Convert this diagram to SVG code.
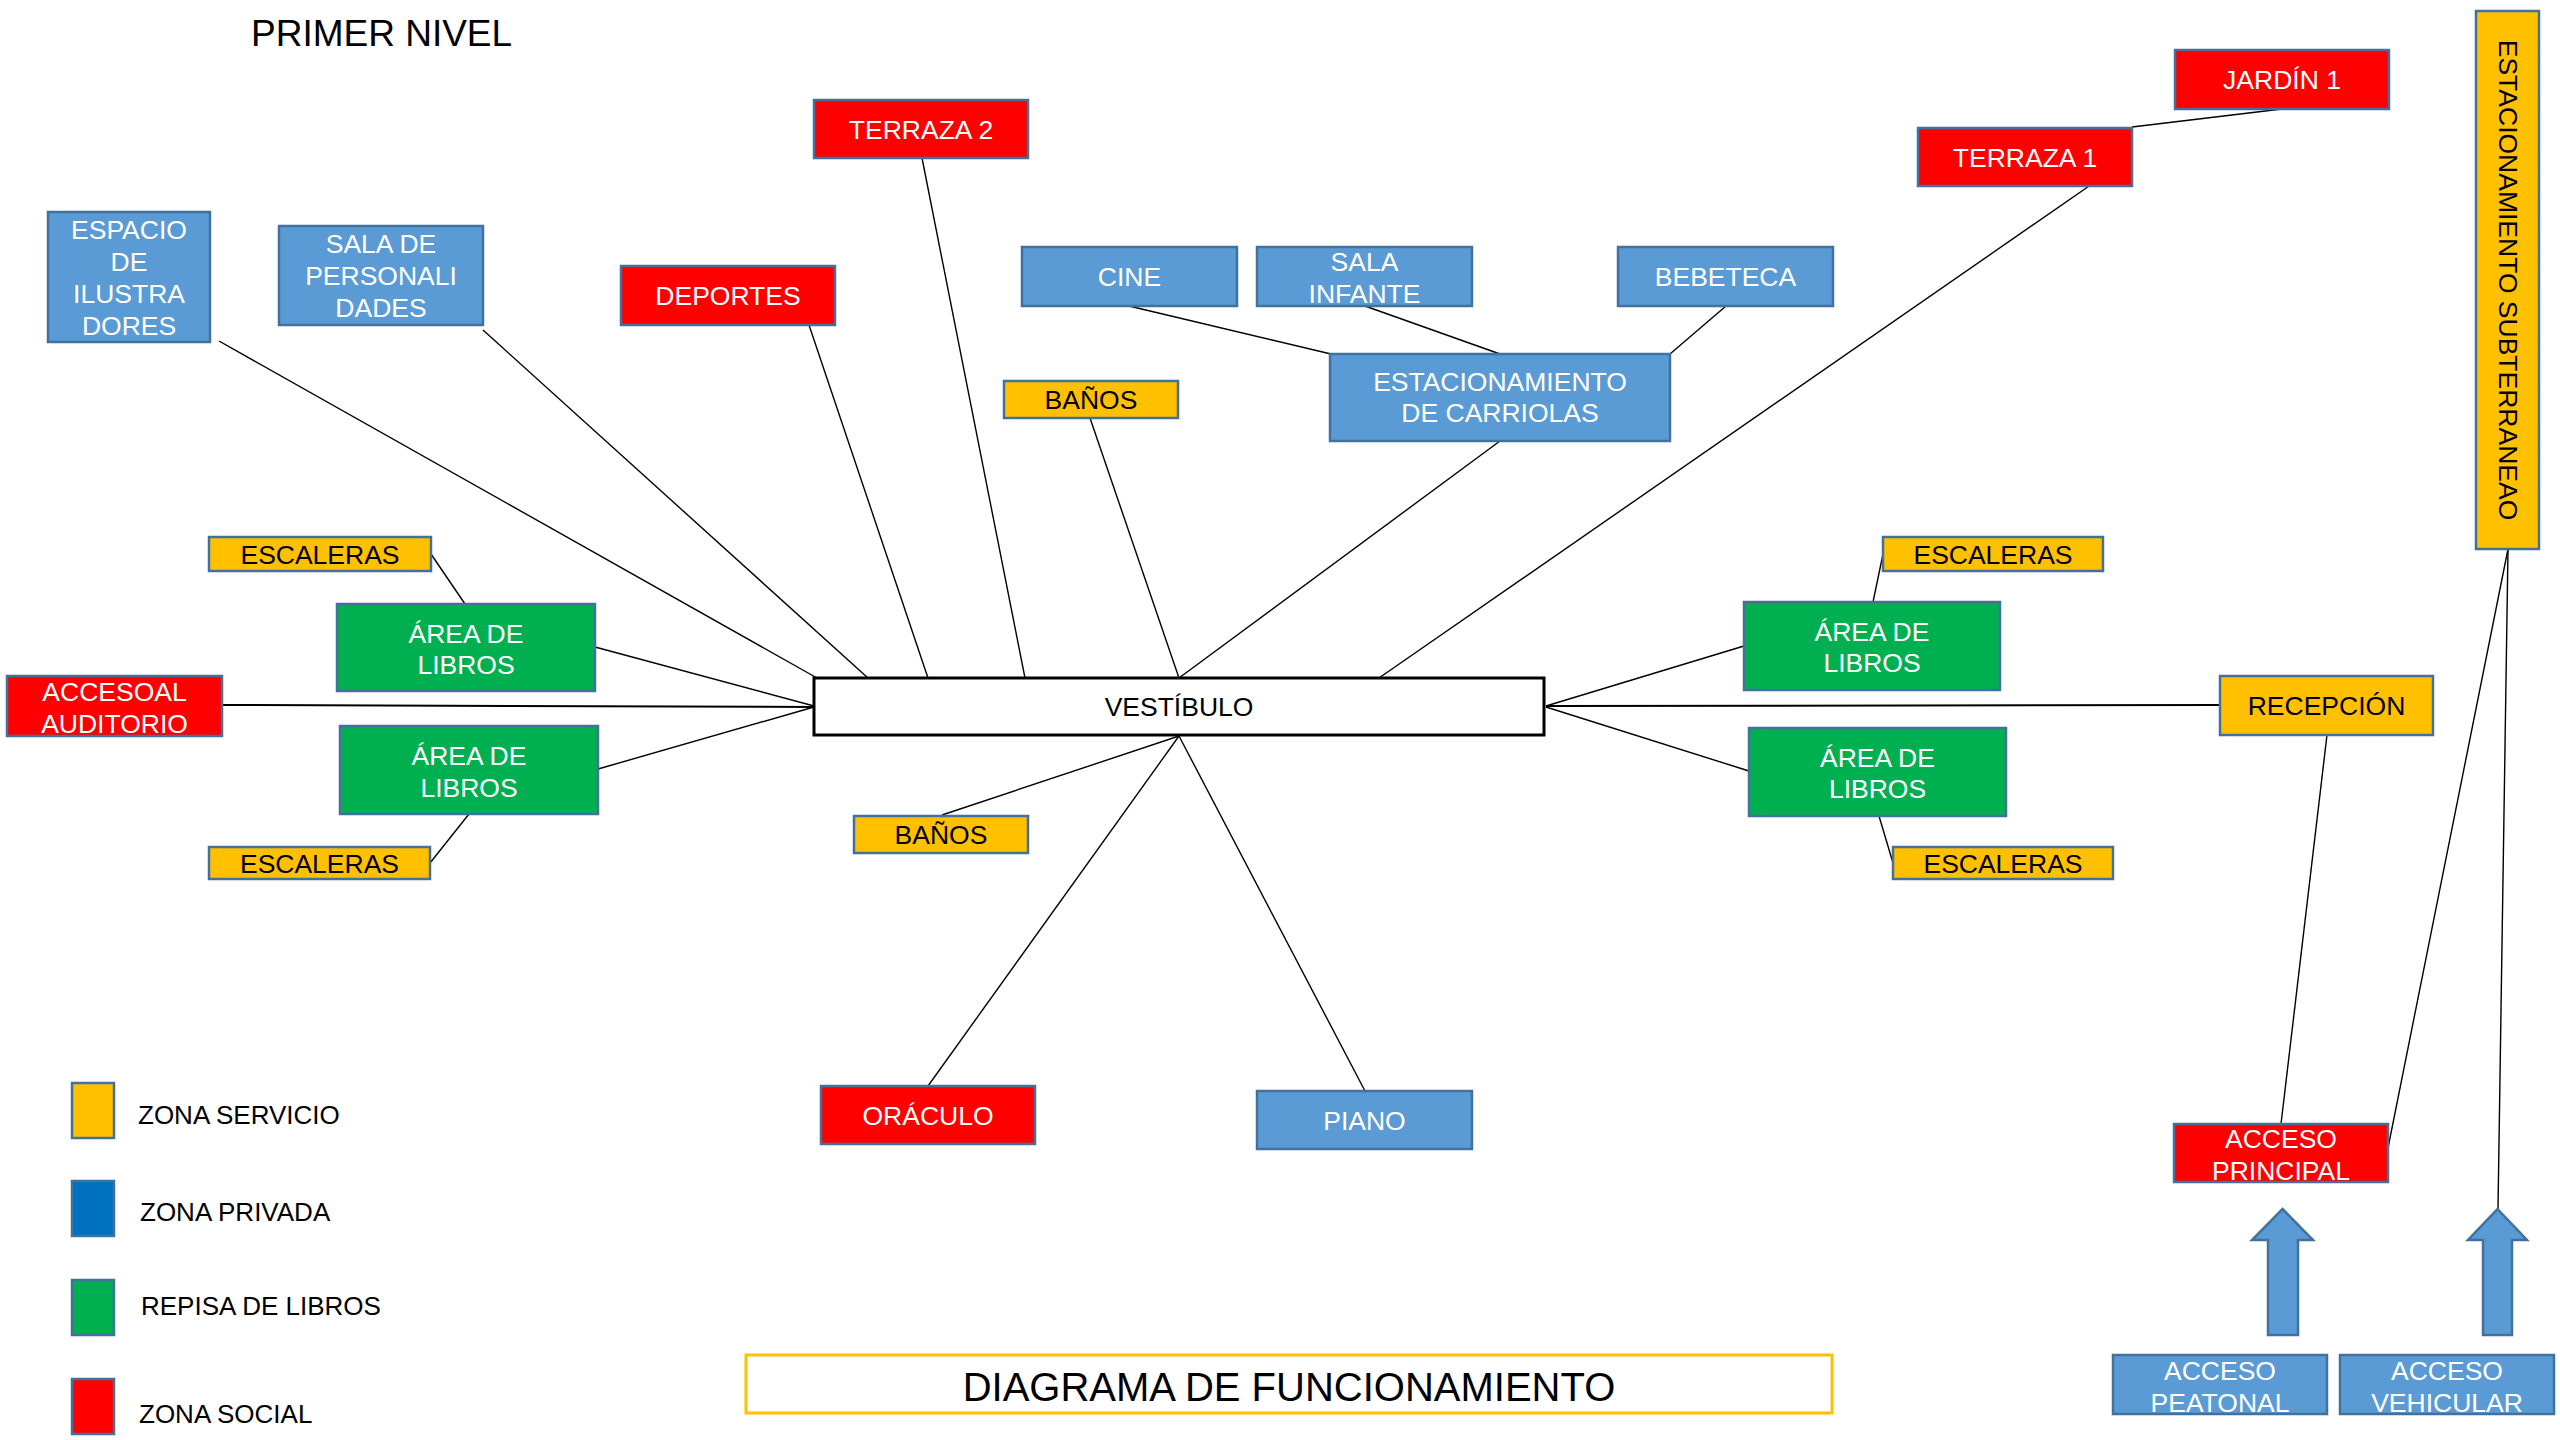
<svg xmlns="http://www.w3.org/2000/svg" width="2560" height="1440" viewBox="0 0 2560 1440">
<style>
.n{stroke:#41719C;stroke-width:2.5}
.r{fill:#FF0000}.b{fill:#5B9BD5}.g{fill:#00B050}.y{fill:#FFC000}
.t{font-family:"Liberation Sans",Arial,sans-serif;font-size:26.5px;text-anchor:middle}
.w{fill:#FFFFFF}.k{fill:#000000}
.lg{font-family:"Liberation Sans",Arial,sans-serif;font-size:26px;fill:#000}
#connectors line{stroke:#000;stroke-width:1.4}
</style>
<rect width="2560" height="1440" fill="#FFFFFF"/>
<text x="251" y="46" font-family="Liberation Sans, Arial, sans-serif" font-size="37" fill="#000">PRIMER NIVEL</text>
<g id="connectors">
<line x1="219" y1="341" x2="817" y2="678"/>
<line x1="483" y1="330" x2="868" y2="678"/>
<line x1="809" y1="325" x2="928" y2="678"/>
<line x1="922" y1="158" x2="1025" y2="678"/>
<line x1="431" y1="554" x2="465" y2="604"/>
<line x1="595" y1="647" x2="814" y2="706"/>
<line x1="222" y1="705" x2="814" y2="707" style="stroke-width:2"/>
<line x1="598" y1="769" x2="814" y2="707"/>
<line x1="430" y1="863" x2="469" y2="814"/>
<line x1="942" y1="815" x2="1179" y2="736"/>
<line x1="928" y1="1086" x2="1179" y2="736"/>
<line x1="1365" y1="1091" x2="1179" y2="736"/>
<line x1="1090" y1="418" x2="1179" y2="678"/>
<line x1="1500" y1="441" x2="1179" y2="678"/>
<line x1="2092" y1="184" x2="1379" y2="678"/>
<line x1="1129" y1="306" x2="1331" y2="354"/>
<line x1="1365" y1="306" x2="1500" y2="354"/>
<line x1="1726" y1="306" x2="1670" y2="354"/>
<line x1="2282" y1="109" x2="2132" y2="127"/>
<line x1="1883" y1="554" x2="1873" y2="602"/>
<line x1="1744" y1="646" x2="1546" y2="706"/>
<line x1="1546" y1="706" x2="2220" y2="705" style="stroke-width:2"/>
<line x1="1546" y1="707" x2="1749" y2="771"/>
<line x1="1879" y1="816" x2="1893" y2="863"/>
<line x1="2327" y1="735" x2="2281" y2="1124"/>
<line x1="2508" y1="549" x2="2388" y2="1148"/>
<line x1="2508" y1="549" x2="2498" y2="1209"/>
</g>
<g id="espacio"><rect class="n b" x="48" y="212" width="162" height="130"/><text class="t w"><tspan x="129" y="239">ESPACIO</tspan><tspan x="129" y="271">DE</tspan><tspan x="129" y="303">ILUSTRA</tspan><tspan x="129" y="335">DORES</tspan></text></g>
<g id="sala-personalidades"><rect class="n b" x="279" y="226" width="204" height="99"/><text class="t w"><tspan x="381" y="253">SALA DE</tspan><tspan x="381" y="285">PERSONALI</tspan><tspan x="381" y="317">DADES</tspan></text></g>
<g id="terraza2"><rect class="n r" x="814" y="100" width="214" height="58"/><text class="t w" x="921" y="139">TERRAZA 2</text></g>
<g id="deportes"><rect class="n r" x="621" y="266" width="214" height="59"/><text class="t w" x="728" y="305">DEPORTES</text></g>
<g id="banos-top"><rect class="n y" x="1004" y="381" width="174" height="37"/><text class="t k" x="1091" y="409">BAÑOS</text></g>
<g id="cine"><rect class="n b" x="1022" y="247" width="215" height="59"/><text class="t w" x="1129.5" y="286">CINE</text></g>
<g id="sala-infante"><rect class="n b" x="1257" y="247" width="215" height="59"/><text class="t w"><tspan x="1364.5" y="271">SALA</tspan><tspan x="1364.5" y="303">INFANTE</tspan></text></g>
<g id="bebeteca"><rect class="n b" x="1618" y="247" width="215" height="59"/><text class="t w" x="1725.5" y="286">BEBETECA</text></g>
<g id="carriolas"><rect class="n b" x="1330" y="354" width="340" height="87"/><text class="t w"><tspan x="1500" y="391">ESTACIONAMIENTO</tspan><tspan x="1500" y="422">DE CARRIOLAS</tspan></text></g>
<g id="jardin1"><rect class="n r" x="2175" y="50" width="214" height="59"/><text class="t w" x="2282" y="89">JARDÍN 1</text></g>
<g id="terraza1"><rect class="n r" x="1918" y="128" width="214" height="58"/><text class="t w" x="2025" y="167">TERRAZA 1</text></g>
<g id="subterraneo"><rect class="n y" x="2476" y="11" width="63" height="538"/><text class="t k" transform="translate(2498.5,280) rotate(90)" x="0" y="0">ESTACIONAMIENTO SUBTERRANEAO</text></g>
<g id="escaleras-tl"><rect class="n y" x="209" y="537" width="222" height="34"/><text class="t k" x="320" y="563.5">ESCALERAS</text></g>
<g id="area-ul"><rect class="n g" x="337" y="604" width="258" height="87"/><text class="t w"><tspan x="466" y="643">ÁREA DE</tspan><tspan x="466" y="674">LIBROS</tspan></text></g>
<g id="accesoal"><rect class="n r" x="7" y="676" width="215" height="60"/><text class="t w"><tspan x="114.5" y="701">ACCESOAL</tspan><tspan x="114.5" y="733">AUDITORIO</tspan></text></g>
<g id="area-ll"><rect class="n g" x="340" y="726" width="258" height="88"/><text class="t w"><tspan x="469" y="764.5">ÁREA DE</tspan><tspan x="469" y="797">LIBROS</tspan></text></g>
<g id="escaleras-bl"><rect class="n y" x="209" y="847" width="221" height="32"/><text class="t k" x="319.5" y="872.5">ESCALERAS</text></g>
<g id="vestibulo"><rect x="814" y="678" width="730" height="57" fill="#FFFFFF" stroke="#000" stroke-width="3"/><text class="t k" x="1179" y="716">VESTÍBULO</text></g>
<g id="banos-bottom"><rect class="n y" x="854" y="816" width="174" height="37"/><text class="t k" x="941" y="844">BAÑOS</text></g>
<g id="oraculo"><rect class="n r" x="821" y="1086" width="214" height="58"/><text class="t w" x="928" y="1124.5">ORÁCULO</text></g>
<g id="piano"><rect class="n b" x="1257" y="1091" width="215" height="58"/><text class="t w" x="1364.5" y="1129.5">PIANO</text></g>
<g id="escaleras-tr"><rect class="n y" x="1883" y="537" width="220" height="34"/><text class="t k" x="1993" y="563.5">ESCALERAS</text></g>
<g id="area-ur"><rect class="n g" x="1744" y="602" width="256" height="88"/><text class="t w"><tspan x="1872" y="641">ÁREA DE</tspan><tspan x="1872" y="672">LIBROS</tspan></text></g>
<g id="recepcion"><rect class="n y" x="2220" y="676" width="213" height="59"/><text class="t k" x="2326.5" y="715">RECEPCIÓN</text></g>
<g id="area-lr"><rect class="n g" x="1749" y="728" width="257" height="88"/><text class="t w"><tspan x="1877.5" y="767">ÁREA DE</tspan><tspan x="1877.5" y="798">LIBROS</tspan></text></g>
<g id="escaleras-br"><rect class="n y" x="1893" y="847" width="220" height="32"/><text class="t k" x="2003" y="872.5">ESCALERAS</text></g>
<g id="acceso-principal"><rect class="n r" x="2174" y="1124" width="214" height="58"/><text class="t w"><tspan x="2281" y="1148">ACCESO</tspan><tspan x="2281" y="1180">PRINCIPAL</tspan></text></g>
<g id="arrow-peatonal"><polygon class="n b" points="2282.5,1209 2313,1240 2298,1240 2298,1335 2268,1335 2268,1240 2252,1240"/></g>
<g id="arrow-vehicular"><polygon class="n b" points="2497.5,1209 2527,1240 2512,1240 2512,1335 2483,1335 2483,1240 2468,1240"/></g>
<g id="acceso-peatonal"><rect class="n b" x="2113" y="1355" width="214" height="59"/><text class="t w"><tspan x="2220" y="1380">ACCESO</tspan><tspan x="2220" y="1412">PEATONAL</tspan></text></g>
<g id="acceso-vehicular"><rect class="n b" x="2340" y="1355" width="214" height="59"/><text class="t w"><tspan x="2447" y="1380">ACCESO</tspan><tspan x="2447" y="1412">VEHICULAR</tspan></text></g>
<g id="legend">
<rect class="n y" x="72" y="1083" width="42" height="55"/><text class="lg" x="138" y="1124">ZONA SERVICIO</text>
<rect class="n" fill="#0070C0" x="72" y="1181" width="42" height="55"/><text class="lg" x="140" y="1221">ZONA PRIVADA</text>
<rect class="n g" x="72" y="1280" width="42" height="55"/><text class="lg" x="141" y="1315">REPISA DE LIBROS</text>
<rect class="n r" x="72" y="1379" width="42" height="55"/><text class="lg" x="139" y="1423">ZONA SOCIAL</text>
</g>
<g id="title"><rect x="746" y="1355" width="1086" height="58" fill="#FFFFFF" stroke="#FFC000" stroke-width="3"/><text x="1289" y="1401" font-family="Liberation Sans, Arial, sans-serif" font-size="40" text-anchor="middle" fill="#000">DIAGRAMA DE FUNCIONAMIENTO</text></g>
</svg>
